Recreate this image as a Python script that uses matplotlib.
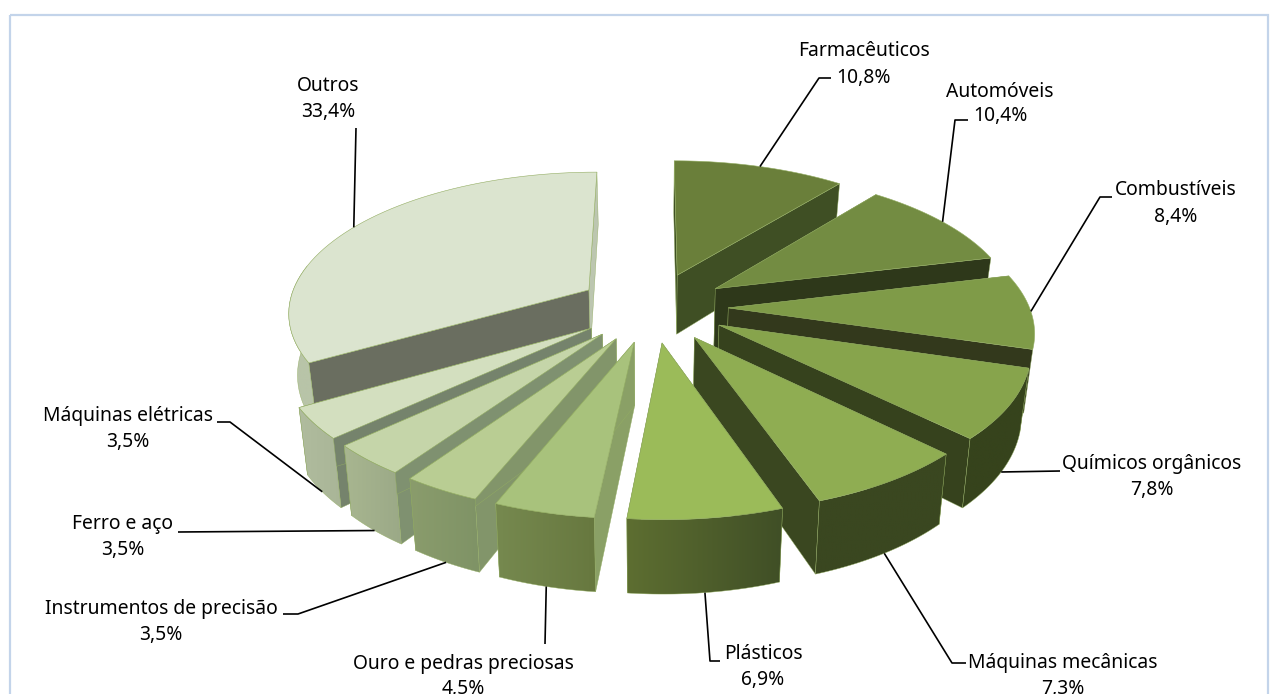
import numpy as np
import matplotlib
matplotlib.use("Agg")
import matplotlib.pyplot as plt
from matplotlib.patches import Polygon, Rectangle
from matplotlib.colors import to_rgb

names = ["Farmacêuticos", "Automóveis", "Combustíveis", "Químicos orgânicos",
         "Máquinas mecânicas", "Plásticos", "Ouro e pedras preciosas",
         "Instrumentos de precisão", "Ferro e aço", "Máquinas elétricas", "Outros"]
values = [10.8, 10.4, 8.4, 7.8, 7.3, 6.9, 4.5, 3.5, 3.5, 3.5, 33.4]

top_colors = ["#6a7f3a", "#738c42", "#7f9b48", "#87a44c", "#8fad52", "#9bbb59",
              "#a8c27c", "#b9cd93", "#c5d5a9", "#d3dfbf", "#dbe4cf"]
wall_start = ["#3f4f24", "#2e381a", "#33391c", "#36421d", "#3a4720", "#404f26",
              "#8aa066", "#82956a", "#7f9170", "#75836c", "#6a6e60"]
wall_end = ["#3f4f24", "#2e381a", "#33391c", "#36421d", "#3a4720", "#404f26",
            "#8aa066", "#82956a", "#7f9170", "#75836c", "#bcc6b0"]
rim_left = ["#3f4f24", "#2e381a", "#33391c", "#36431c", "#3a4720", "#5d6e31",
            "#76894f", "#8a9c6c", "#a8b690", "#b0bc9e", "#b8c4a8"]
rim_right = ["#3f4f24", "#2e381a", "#33391c", "#36431c", "#3a4720", "#404f26",
             "#67783f", "#7f9366", "#9ba987", "#a9b597", "#b8c4a8"]
edge_color = "#93ad62"

# pie projection, fitted on the picture (pixels)
CX, CY = 653, 307
RX, RY = 301, 139.5
EXPLODE = 0.25
PERSP = 0.145
DEPTH = 61
BOTTOM_SHRINK = 0.976

label_x = [864, 1000, 1176, 1152, 1063, 763, 463, 161, 123, 128, 328]
label_y = [51, 92, 190, 464, 663, 654, 664, 609, 524, 416, 86]
label_y2 = [78, 116, 217, 490, 689, 680, 689, 635, 550, 442, 112]
leaders = [[(819, 78), (831, 78)], [(955, 120), (968, 120)], [(1100, 197), (1112, 197)],
           [(1060, 471)], [(952, 663), (966, 663)], [(710, 661), (720, 661)],
           [(545, 644)], [(298, 614), (283, 614)], [(178, 532)],
           [(230, 422), (217, 422)], [(356, 128)]]
leader_on_top = [True, True, True, False, False, False, False, False, False, False, True]


def project(x, z):
    s = 1 / (1 - PERSP * z)
    return CX + RX * x * s, CY + RY * z * s


def bottom(x, z):
    s = 1 / (1 - PERSP * z)
    px, py = project(x, z)
    return CX + (px - CX) * BOTTOM_SHRINK, py + DEPTH * s


plt.rcParams["font.family"] = ["Noto Sans", "DejaVu Sans"]
fig = plt.figure(figsize=(12.77, 6.94), dpi=100)
ax = fig.add_axes([0, 0, 1, 1])
ax.axis("off")

ax.add_patch(Rectangle((9.5, 14.5), 1258, 700, fill=False, ec="#c3d4ea", lw=1.6))

edges = np.cumsum([0] + values) / sum(values) * 2 * np.pi
mids = (edges[:-1] + edges[1:]) / 2
order = np.argsort(-np.cos(mids))

z = 2
for i in order:
    t1, t2, mid = edges[i], edges[i + 1], mids[i]
    ax_x, ax_z = EXPLODE * np.sin(mid), -EXPLODE * np.cos(mid)
    th = np.linspace(t1, t2, 60)
    xs = ax_x + np.sin(th)
    zs = ax_z - np.cos(th)
    rim_top = [project(a, b) for a, b in zip(xs, zs)]
    rim_bot = [bottom(a, b) for a, b in zip(xs, zs)]
    apex_top = project(ax_x, ax_z)
    apex_bot = bottom(ax_x, ax_z)

    # radial walls
    ax.add_patch(Polygon([apex_top, rim_top[0], rim_bot[0], apex_bot], fc=wall_start[i],
                         ec=edge_color, lw=0.3, zorder=z))
    ax.add_patch(Polygon([apex_top, rim_top[-1], rim_bot[-1], apex_bot], fc=wall_end[i],
                         ec=edge_color, lw=0.3, zorder=z))
    z += 1

    # outer rim, only the part that faces the viewer, shaded left to right
    # a slice pointing straight right has its rim edge-on, nothing to draw
    front = np.cos(th) < 0.2
    if front.sum() > 1 and abs(np.cos(mid)) > 0.1:
        vis_top = [p for p, f in zip(rim_top, front) if f]
        vis_bot = [p for p, f in zip(rim_bot, front) if f]
        rim_poly = vis_top + vis_bot[::-1]
        x0 = min(p[0] for p in rim_poly)
        x1 = max(p[0] for p in rim_poly)
        y0 = min(p[1] for p in rim_poly)
        y1 = max(p[1] for p in rim_poly)
        grad = np.linspace(np.array(to_rgb(rim_left[i])), np.array(to_rgb(rim_right[i])), 64)[None, :, :]
        im = ax.imshow(grad, extent=(x0, x1, y1, y0), aspect="auto", zorder=z, interpolation="bilinear")
        im.set_clip_path(Polygon(rim_poly, transform=ax.transData))
        z += 1
        ax.add_patch(Polygon(rim_poly, fill=False, ec=edge_color, lw=0.3, zorder=z))
        z += 1

    ax.add_patch(Polygon([apex_top] + rim_top, fc=top_colors[i], ec=edge_color, lw=0.4, zorder=z))
    z += 1

ax.set_xlim(0, 1277)
ax.set_ylim(694, 0)

# leaders start on the middle of each slice's rim
for i in range(len(values)):
    mid = mids[i]
    lx = (1 + EXPLODE) * np.sin(mid)
    lz = -(1 + EXPLODE) * np.cos(mid)
    start = project(lx, lz) if leader_on_top[i] else bottom(lx, lz)
    pts = [start] + leaders[i]
    ax.plot([p[0] for p in pts], [p[1] for p in pts], color="black", lw=1.2,
            solid_capstyle="butt", zorder=z)
    pct = f"{values[i]:.1f}%".replace(".", ",")
    ax.text(label_x[i], label_y[i], names[i], ha="center", va="center", fontsize=13.9,
            color="black", zorder=z + 1)
    ax.text(label_x[i], label_y2[i], pct, ha="center", va="center", fontsize=13.9,
            color="black", zorder=z + 1)

fig.savefig("out.png", dpi=100)
